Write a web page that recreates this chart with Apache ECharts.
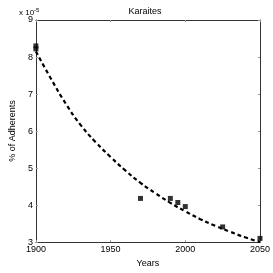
<!DOCTYPE html>
<html><head><meta charset="utf-8">
<script src="https://cdn.jsdelivr.net/npm/echarts@6/dist/echarts.min.js"></script>
<style>html,body{margin:0;padding:0;background:#fff}#c{width:273px;height:273px}</style>
</head><body><div id="c"></div>
<script>
// observed data (units of 1e-5 %)
const obsYears = [1900, 1900, 1970, 1990, 1995, 2000, 2025, 2050];
const obsValues = [8.3, 8.22, 4.18, 4.18, 4.07, 3.96, 3.41, 3.1];
// fitted trend
const fitYears = [1900, 1910, 1920, 1930, 1940, 1950, 1960, 1970, 1980, 1990, 2000, 2010, 2020, 2030, 2040, 2050];
const fitValues = [8.15, 7.42, 6.74, 6.16, 5.7, 5.3, 4.93, 4.6, 4.32, 4.06, 3.83, 3.62, 3.44, 3.28, 3.13, 3.0];
const xTicks = [1900, 1950, 2000, 2050];
const yTicks = [3, 4, 5, 6, 7, 8, 9];
const titleText = 'Karaites';
const xName = 'Years';
const yName = '% of Adherents';

const font = 'Liberation Sans';
const axisColor = '#333';
const chart = echarts.init(document.getElementById('c'), null, {renderer: 'canvas'});
const baseAxis = {
  axisLine: {show: true, lineStyle: {color: axisColor, width: 1}},
  axisTick: {show: true, inside: true, length: 2, lineStyle: {color: '#999'}},
  splitLine: {show: false},
  axisLabel: {color: '#000', fontFamily: font, fontSize: 9}
};
chart.setOption({
  animation: false,
  backgroundColor: '#fff',
  title: {text: titleText, left: 140, top: 2, textAlign: 'center',
    textStyle: {fontFamily: font, fontSize: 9, fontWeight: 'normal', color: '#000'}},
  grid: {left: 18, right: 10, top: 20, bottom: 25},
  xAxis: [
    Object.assign({}, baseAxis, {type: 'value', min: xTicks[0], max: xTicks[xTicks.length-1], interval: 50,
      name: xName, nameLocation: 'middle', nameGap: 14,
      nameTextStyle: {fontFamily: font, fontSize: 9, color: '#000'},
      axisLabel: Object.assign({}, baseAxis.axisLabel, {margin: 3, formatter: v => String(v)})}),
    Object.assign({}, baseAxis, {type: 'value', position: 'top', min: xTicks[0], max: xTicks[xTicks.length-1], interval: 50,
      axisLabel: {show: false}})
  ],
  yAxis: [
    Object.assign({}, baseAxis, {type: 'value', min: yTicks[0], max: yTicks[yTicks.length-1], interval: 1,
      name: yName, nameLocation: 'middle', nameGap: 11,
      nameTextStyle: {fontFamily: font, fontSize: 9, color: '#000'},
      axisLabel: Object.assign({}, baseAxis.axisLabel, {margin: 3})}),
    Object.assign({}, baseAxis, {type: 'value', position: 'right', min: yTicks[0], max: yTicks[yTicks.length-1], interval: 1,
      axisLabel: {show: false}})
  ],
  graphic: [{
    type: 'text', left: 19, top: 7,
    style: {
      text: 'x 10{s|-5}',
      rich: {s: {fontSize: 6, verticalAlign: 'top', padding: [0,0,5,0], fontFamily: font, fill: '#000'}},
      font: '8px "Liberation Sans"', fill: '#000'
    }
  }],
  series: [
    {type: 'line', data: fitYears.map((y, i) => [y, fitValues[i]]), smooth: 0.5, symbol: 'none',
      lineStyle: {color: '#000', width: 2.2, type: [4, 3]}, z: 2},
    {type: 'scatter', data: obsYears.map((y, i) => [y, obsValues[i]]), symbol: 'rect', symbolSize: 5,
      itemStyle: {color: '#000'}, z: 3}
  ]
});
</script></body></html>
